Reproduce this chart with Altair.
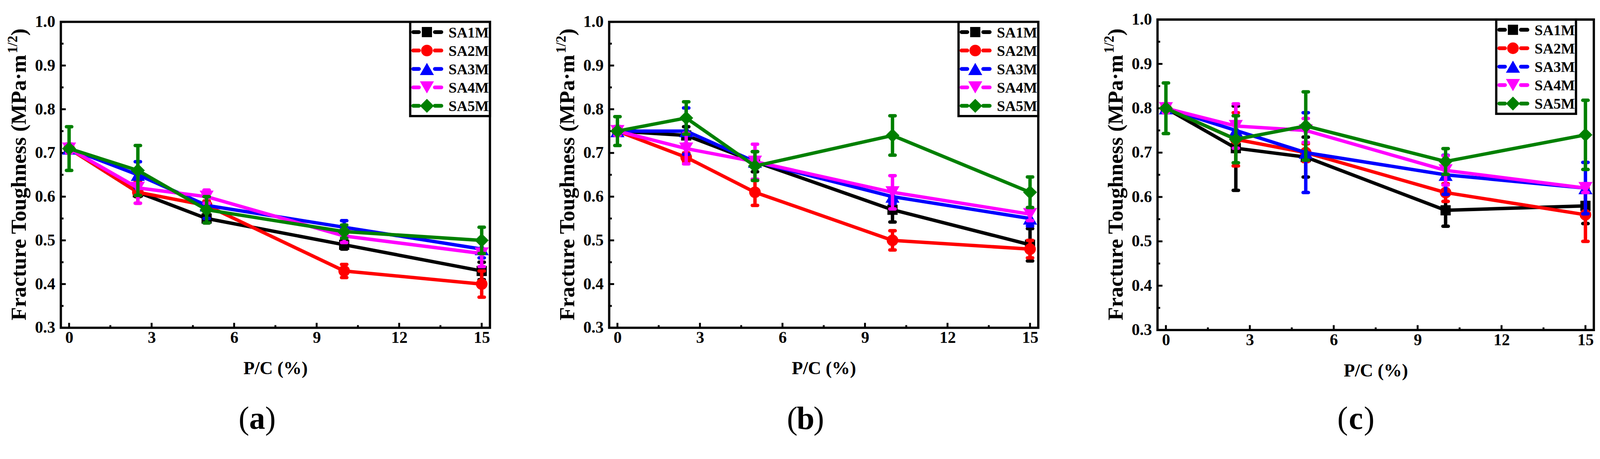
import altair as alt
import pandas as pd

# ---------------- data ----------------
PC = [0, 2.5, 5, 10, 15]
SERIES = ["SA1M", "SA2M", "SA3M", "SA4M", "SA5M"]
COLORS = ["#000000", "#FF0000", "#0000FF", "#FF00FF", "#008000"]
SHAPES = ["square", "circle", "triangle-up", "triangle-down", "diamond"]
SIZES = [720, 930, 1370, 1370, 1350]

A_MEAN = {
    "SA1M": [0.71, 0.61, 0.55, 0.49, 0.43],
    "SA2M": [0.71, 0.61, 0.58, 0.43, 0.40],
    "SA3M": [0.71, 0.65, 0.58, 0.53, 0.48],
    "SA4M": [0.71, 0.62, 0.60, 0.51, 0.47],
    "SA5M": [0.71, 0.66, 0.57, 0.52, 0.50],
}
A_ERR = {
    "SA1M": [0.01, 0.01, 0.01, 0.01, 0.02],
    "SA2M": [0.01, 0.025, 0.01, 0.015, 0.03],
    "SA3M": [0.01, 0.03, 0.03, 0.015, 0.02],
    "SA4M": [0.01, 0.035, 0.015, 0.015, 0.03],
    "SA5M": [0.05, 0.057, 0.03, 0.015, 0.03],
}
B_MEAN = {
    "SA1M": [0.75, 0.74, 0.68, 0.57, 0.49],
    "SA2M": [0.75, 0.69, 0.61, 0.50, 0.48],
    "SA3M": [0.75, 0.75, 0.68, 0.60, 0.55],
    "SA4M": [0.75, 0.71, 0.68, 0.61, 0.56],
    "SA5M": [0.75, 0.78, 0.67, 0.74, 0.61],
}
B_ERR = {
    "SA1M": [0.01, 0.02, 0.023, 0.028, 0.037],
    "SA2M": [0.01, 0.01, 0.03, 0.022, 0.02],
    "SA3M": [0.01, 0.053, 0.01, 0.016, 0.017],
    "SA4M": [0.01, 0.035, 0.04, 0.038, 0.015],
    "SA5M": [0.033, 0.037, 0.033, 0.045, 0.035],
}
C_MEAN = {
    "SA1M": [0.80, 0.71, 0.69, 0.57, 0.58],
    "SA2M": [0.80, 0.73, 0.70, 0.61, 0.56],
    "SA3M": [0.80, 0.75, 0.70, 0.65, 0.62],
    "SA4M": [0.80, 0.76, 0.75, 0.66, 0.62],
    "SA5M": [0.80, 0.73, 0.76, 0.68, 0.74],
}
C_ERR = {
    "SA1M": [0.01, 0.095, 0.045, 0.036, 0.04],
    "SA2M": [0.01, 0.06, 0.02, 0.02, 0.06],
    "SA3M": [0.01, 0.015, 0.09, 0.044, 0.058],
    "SA4M": [0.01, 0.05, 0.027, 0.033, 0.01],
    "SA5M": [0.057, 0.053, 0.077, 0.029, 0.078],
}

X_TICKS = [0, 3, 6, 9, 12, 15]
X_MINOR = [1.5, 4.5, 7.5, 10.5, 13.5]
Y_TICKS = [0.3, 0.4, 0.5, 0.6, 0.7, 0.8, 0.9, 1.0]
Y_MINOR = [0.35, 0.45, 0.55, 0.65, 0.75, 0.85, 0.95]
PANEL_LETTERS = ["a", "b", "c"]
X_TITLE = "P/C (%)"
Y_TITLE_MAIN = "Fracture Toughness (MPa·m"
Y_TITLE_SUP = "1/2"
Y_TITLE_END = ")"

FONT = "Liberation Serif"
ONE = pd.DataFrame({"k": [0]})


def panel(mean, err, w, h, legend_right, page_top, label_dx, letter):
    xs = alt.Scale(domain=[-0.3, 15.3], nice=False, zero=False)
    ys = alt.Scale(domain=[0.3, 1.0], nice=False, zero=False)
    xaxis = alt.Axis(values=X_TICKS, ticks=False, domain=False, grid=False,
                     labelPadding=5, title=X_TITLE, titlePadding=36)
    yaxis = alt.Axis(values=Y_TICKS, format=".1f", ticks=False, domain=False,
                     grid=False, labelPadding=15, title=None)
    layers = []
    # inward ticks
    layers.append(alt.Chart(pd.DataFrame({"v": X_TICKS})).mark_rule(color="black", strokeWidth=5).encode(
        x=alt.X("v:Q", scale=xs, axis=xaxis), y=alt.value(h), y2=alt.value(h - 13)))
    layers.append(alt.Chart(pd.DataFrame({"v": X_MINOR})).mark_rule(color="black", strokeWidth=5).encode(
        x=alt.X("v:Q", scale=xs, axis=xaxis), y=alt.value(h), y2=alt.value(h - 7)))
    layers.append(alt.Chart(pd.DataFrame({"v": Y_TICKS})).mark_rule(color="black", strokeWidth=5).encode(
        y=alt.Y("v:Q", scale=ys, axis=yaxis), x=alt.value(0), x2=alt.value(13)))
    layers.append(alt.Chart(pd.DataFrame({"v": Y_MINOR})).mark_rule(color="black", strokeWidth=5).encode(
        y=alt.Y("v:Q", scale=ys, axis=yaxis), x=alt.value(0), x2=alt.value(7)))

    for i, s in enumerate(SERIES):
        df = pd.DataFrame({"pc": PC, "m": mean[s], "e": err[s]})
        base = alt.Chart(df).transform_calculate(lo="datum.m - datum.e", hi="datum.m + datum.e")
        X = alt.X("pc:Q", scale=xs, axis=xaxis)
        c = COLORS[i]
        layers.append(base.mark_line(color=c, strokeWidth=9, strokeCap="round", strokeJoin="round").encode(
            x=X, y=alt.Y("m:Q", scale=ys, axis=yaxis)))
        layers.append(base.mark_rule(color=c, strokeWidth=9).encode(
            x=X, y=alt.Y("lo:Q", scale=ys, axis=yaxis), y2="hi:Q"))
        for f in ["lo", "hi"]:
            layers.append(base.mark_rule(color=c, strokeWidth=9, strokeCap="round", xOffset=-7, x2Offset=7).encode(
                x=X, x2="pc:Q", y=alt.Y(f + ":Q", scale=ys, axis=yaxis)))
        layers.append(base.mark_point(shape=SHAPES[i], filled=True, size=SIZES[i], color=c, opacity=1,
                                      strokeWidth=0).encode(
            x=X, y=alt.Y("m:Q", scale=ys, axis=yaxis)))

    # legend
    R = legend_right
    L = R - 210
    B = 248
    layers.append(alt.Chart(ONE).mark_rect(fill="white", stroke="black", strokeWidth=6).encode(
        x=alt.value(L), x2=alt.value(R), y=alt.value(0), y2=alt.value(B)))
    for i, s in enumerate(SERIES):
        yy = 27 + 48.5 * i
        c = COLORS[i]
        for a0, a1 in [(L + 8, L + 23), (L + 65, L + 82)]:
            layers.append(alt.Chart(ONE).mark_rule(color=c, strokeWidth=10, strokeCap="round").encode(
                x=alt.value(a0), x2=alt.value(a1), y=alt.value(yy)))
        layers.append(alt.Chart(ONE).mark_point(shape=SHAPES[i], filled=True, size=SIZES[i], color=c,
                                                opacity=1, strokeWidth=0).encode(
            x=alt.value(L + 44), y=alt.value(yy)))
        layers.append(alt.Chart(ONE).mark_text(text=s, align="left", baseline="middle", font=FONT,
                                               fontSize=39, fontWeight="bold", color="black").encode(
            x=alt.value(L + 101), y=alt.value(yy + 2)))

    # y-axis title with superscript
    start = h / 2 + 383
    layers.append(alt.Chart(ONE).mark_text(text=Y_TITLE_MAIN, angle=270, align="left", baseline="alphabetic",
                                           font=FONT, fontSize=57, fontWeight="bold", color="black").encode(
        x=alt.value(-92), y=alt.value(start)))
    layers.append(alt.Chart(ONE).mark_text(text=Y_TITLE_SUP, angle=270, align="left", baseline="alphabetic",
                                           font=FONT, fontSize=36, fontWeight="bold", color="black").encode(
        x=alt.value(-115), y=alt.value(start - 703)))
    layers.append(alt.Chart(ONE).mark_text(text=Y_TITLE_END, angle=270, align="left", baseline="alphabetic",
                                           font=FONT, fontSize=57, fontWeight="bold", color="black").encode(
        x=alt.value(-92), y=alt.value(start - 749)))

    # panel label "(x)"
    cx = w / 2 + label_dx
    cy = 1101 - page_top
    layers.append(alt.Chart(ONE).mark_text(text="(", align="right", baseline="middle", font=FONT,
                                           fontSize=84, color="black").encode(
        x=alt.value(cx - 21), y=alt.value(cy)))
    layers.append(alt.Chart(ONE).mark_text(text=letter, align="center", baseline="middle", font=FONT,
                                           fontSize=84, fontWeight="bold", color="black").encode(
        x=alt.value(cx), y=alt.value(cy)))
    layers.append(alt.Chart(ONE).mark_text(text=")", align="left", baseline="middle", font=FONT,
                                           fontSize=84, color="black").encode(
        x=alt.value(cx + 21), y=alt.value(cy)))

    return alt.layer(*layers).properties(width=w, height=h)


pa = panel(A_MEAN, A_ERR, 1130, 805, 1130, 55, -48, PANEL_LETTERS[0])
pb = panel(B_MEAN, B_ERR, 1130, 805, 1130, 55, -48, PANEL_LETTERS[1])
pc = panel(C_MEAN, C_ERR, 1149, 817, 1149 - 47, 49, -52, PANEL_LETTERS[2])

chart = alt.hconcat(pa, pb, pc, spacing=314, bounds="flush", center=True).properties(
    padding={"left": 5, "top": 3, "right": 5, "bottom": 5},
    background="white",
).configure_view(stroke="black", strokeWidth=6).configure_axis(
    labelFont=FONT, labelFontSize=43, labelFontWeight="bold", labelColor="black",
    titleFont=FONT, titleFontSize=48, titleFontWeight="bold", titleColor="black",
)

chart.save("out.html", embed_options={"renderer": "svg", "actions": False})
